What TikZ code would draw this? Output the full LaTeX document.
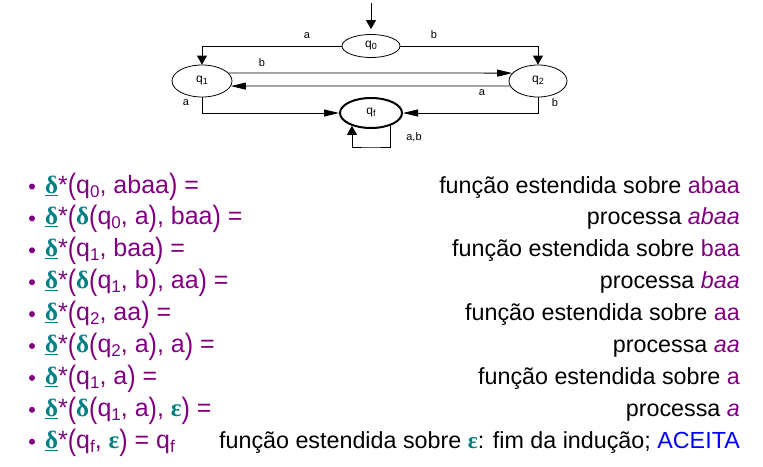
\documentclass[tikz,border=0pt]{standalone}
\usepackage{fontspec}
\setmainfont{Liberation Sans}
\newfontfamily\grkfont{Liberation Serif}
\usetikzlibrary{arrows.meta,shapes.geometric}
\definecolor{pur}{RGB}{128,0,128}
\definecolor{tl}{RGB}{0,128,128}
\definecolor{blu}{RGB}{0,0,255}
\newcommand\mds{{\color{tl}\underline{\grkfont\bfseries δ}}}
\newcommand\mdl{{\color{tl}\grkfont\bfseries δ}}
\newcommand\mep{{\color{tl}\grkfont\bfseries ε}}
\newcommand\mlp{\raisebox{-1.8pt}{\scalebox{1}[1.18]{(}}}
\newcommand\mrp{\raisebox{-1.8pt}{\scalebox{1}[1.18]{)}}}
\newcommand\msub[1]{\raisebox{-4pt}{\fontsize{17}{17}\selectfont #1}}
\newcommand\asub[1]{\raisebox{-1.5pt}{\fontsize{9}{9}\selectfont #1}}
\tikzset{
  st/.style={draw, ellipse, inner sep=0pt, line width=0.8pt, font=\fontsize{12}{12}\selectfont},
  fin/.style={st, line width=2pt},
  lbl/.style={inner sep=0pt, font=\fontsize{11}{11}\selectfont},
  arrv/.style={line width=0.8pt, -{Triangle[length=9pt,width=10pt]}},
  arrh/.style={line width=0.8pt, -{Triangle[length=15pt,width=7pt]}},
  bul/.style={circle, fill=pur, inner sep=0pt, minimum size=6pt},
  lt/.style={anchor=base west, inner sep=0pt, text=pur, font=\fontsize{25}{25}\selectfont},
  rt/.style={anchor=base east, inner sep=0pt, font=\fontsize{23.3}{23.3}\selectfont},
}
\begin{document}
\begin{tikzpicture}[x=1pt,y=-1pt]
\useasboundingbox (0,0) rectangle (763,466);
% automaton
\node[st, minimum width=58pt, minimum height=23pt] (q0) at (371,46) {q\asub{0}};
\node[st, minimum width=60pt, minimum height=32pt] (q1) at (202,81) {q\asub{1}};
\node[st, minimum width=58pt, minimum height=32pt] (q2) at (538,81) {q\asub{2}};
\node[fin, minimum width=62pt, minimum height=30pt] (qf) at (371,113) {q\asub{f}};
\coordinate (init) at (371,3);
\coordinate (lb) at (371,147);
\draw[arrv] (init) -- ([yshift=5pt]q0.north);
\draw[arrv] (q0.west) -| (q1.north);
\draw[arrv] (q0.east) -| (q2.north);
\draw[arrh] (q1.17) -- (q2.163);
\draw[arrh] (q2.190) -- (q1.-10);
\draw[arrh] (q1.south) |- (qf.west);
\draw[arrh] (q2.south) |- (qf.east);
\draw[arrv] (qf.-34) |- (lb) -| (qf.214);
\node[lbl] (la1) at (307,36) {a};
\node[lbl] (lb1) at (434,35) {b};
\node[lbl] (lb2) at (262,63) {b};
\node[lbl] (la2) at (482,93) {a};
\node[lbl] (la3) at (186,103) {a};
\node[lbl] (lb3) at (555,103) {b};
\node[lbl] (lab) at (414,137) {a,b};
% bullets
\node[bul] (b1) at (32,186.5) {};
\node[bul] (b2) at (32,218.4) {};
\node[bul] (b3) at (32,250.3) {};
\node[bul] (b4) at (32,282.2) {};
\node[bul] (b5) at (32,314.1) {};
\node[bul] (b6) at (32,346.0) {};
\node[bul] (b7) at (32,377.9) {};
\node[bul] (b8) at (32,409.8) {};
\node[bul] (b9) at (32,441.7) {};
% left column
\node[lt] (l1) at (45,193) {\mds*\mlp q\msub{0}, abaa\mrp{} =};
\node[lt] (l2) at (45,224.9) {\mds*\mlp\mdl\mlp q\msub{0}, a\mrp, baa\mrp{} =};
\node[lt] (l3) at (45,256.8) {\mds*\mlp q\msub{1}, baa\mrp{} =};
\node[lt] (l4) at (45,288.7) {\mds*\mlp\mdl\mlp q\msub{1}, b\mrp, aa\mrp{} =};
\node[lt] (l5) at (45,320.6) {\mds*\mlp q\msub{2}, aa\mrp{} =};
\node[lt] (l6) at (45,352.5) {\mds*\mlp\mdl\mlp q\msub{2}, a\mrp, a\mrp{} =};
\node[lt] (l7) at (45,384.4) {\mds*\mlp q\msub{1}, a\mrp{} =};
\node[lt] (l8) at (45,416.3) {\mds*\mlp\mdl\mlp q\msub{1}, a\mrp, \mep\mrp{} =};
\node[lt] (l9) at (45,448.2) {\mds*\mlp q\msub{f}, \mep\mrp{} = q\msub{f}};
% right column
\node[rt] (r1) at (740,193) {função estendida sobre \textcolor{pur}{abaa}};
\node[rt] (r2) at (740,224.9) {processa \textcolor{pur}{\itshape abaa}};
\node[rt] (r3) at (740,256.8) {função estendida sobre \textcolor{pur}{baa}};
\node[rt] (r4) at (740,288.7) {processa \textcolor{pur}{\itshape baa}};
\node[rt] (r5) at (740,320.6) {função estendida sobre \textcolor{pur}{aa}};
\node[rt] (r6) at (740,352.5) {processa \textcolor{pur}{\itshape aa}};
\node[rt] (r7) at (740,384.4) {função estendida sobre \textcolor{pur}{a}};
\node[rt] (r8) at (740,416.3) {processa \textcolor{pur}{\itshape a}};
\node[rt] (r9) at (740,448.2) {função estendida sobre \mep: fim da indução; \textcolor{blu}{ACEITA}};
\end{tikzpicture}
\end{document}
